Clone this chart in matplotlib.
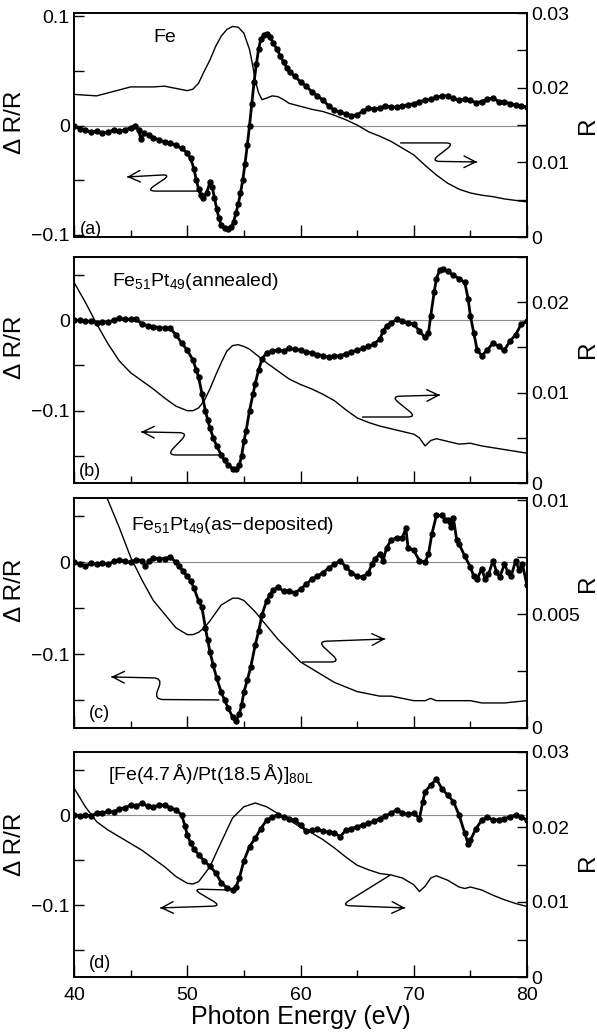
import matplotlib.pyplot as plt
import numpy as np
from matplotlib.path import Path
from matplotlib.patches import PathPatch
from matplotlib.ticker import MultipleLocator, FuncFormatter

plt.rcParams['font.family'] = ['Liberation Sans', 'DejaVu Sans']
plt.rcParams['mathtext.default'] = 'regular'

# === (a) Fe ===
a_dx = [40.0, 40.5, 41.0, 41.5, 42.0, 42.5, 43.0, 43.5, 44.0, 44.5, 45.0, 45.4, 45.7, 45.9, 46.2,
        46.6, 47.0, 47.5, 48.0, 48.5, 49.0, 49.5, 50.0, 50.3, 50.6, 50.8, 51.0, 51.2, 51.4, 51.7,
        52.0, 52.2, 52.4, 52.6, 52.8, 53.0, 53.3, 53.6, 53.9, 54.1, 54.3, 54.5, 54.7, 54.9, 55.1,
        55.3, 55.5, 55.7, 55.9, 56.1, 56.3, 56.5, 56.8, 57.0, 57.3, 57.6, 57.9, 58.2, 58.5, 58.8,
        59.1, 59.5, 60.0, 60.5, 61.0, 61.5, 62.0, 62.5, 63.0, 63.5, 64.0, 64.5, 65.0, 65.5, 66.0,
        66.5, 67.0, 67.5, 68.0, 68.5, 69.0, 69.5, 70.0, 70.5, 71.0, 71.5, 72.0, 72.5, 73.0, 73.5,
        74.0, 74.5, 75.0, 75.5, 76.0, 76.5, 77.0, 77.5, 78.0, 78.5, 79.0, 79.5, 80.0]
a_dy = [0.000, -0.003, -0.004, -0.006, -0.005, -0.007, -0.006, -0.004, -0.005, -0.004, -0.002,
        0.000, -0.004, -0.012, -0.007, -0.009, -0.011, -0.013, -0.015, -0.016, -0.018, -0.021,
        -0.025, -0.030, -0.040, -0.050, -0.058, -0.064, -0.066, -0.062, -0.052, -0.056, -0.066,
        -0.076, -0.085, -0.091, -0.094, -0.095, -0.093, -0.088, -0.080, -0.072, -0.062, -0.050,
        -0.035, -0.018, 0.000, 0.020, 0.040, 0.056, 0.070, 0.079, 0.083, 0.084, 0.081, 0.076,
        0.070, 0.064, 0.058, 0.053, 0.049, 0.045, 0.040, 0.036, 0.031, 0.027, 0.023, 0.018,
        0.014, 0.012, 0.011, 0.009, 0.010, 0.013, 0.016, 0.015, 0.016, 0.018, 0.017, 0.017,
        0.018, 0.019, 0.020, 0.022, 0.023, 0.024, 0.026, 0.027, 0.027, 0.025, 0.023, 0.024,
        0.023, 0.021, 0.022, 0.024, 0.025, 0.022, 0.022, 0.020, 0.019, 0.018, 0.017]
a_rx = [40, 41, 42, 43, 44, 45, 46, 47, 48, 49, 50, 50.5, 51, 51.5, 52, 52.5, 53, 53.5, 54,
        54.5, 55, 55.5, 55.8, 56, 56.3, 56.6, 57, 57.5, 58, 58.5, 59, 60, 61, 62, 63, 64, 65,
        66, 67, 68, 69, 70, 71, 72, 73, 74, 75, 76, 77, 78, 79, 80]
a_ry = [0.0191, 0.0190, 0.0189, 0.0193, 0.0197, 0.0201, 0.0201, 0.0201, 0.0202, 0.0199, 0.0196,
        0.0198, 0.0206, 0.0222, 0.0237, 0.0255, 0.0269, 0.0278, 0.0282, 0.0281, 0.0273, 0.0251,
        0.0228, 0.0210, 0.0193, 0.0184, 0.0186, 0.0189, 0.0188, 0.0184, 0.0179, 0.0175, 0.0171,
        0.0168, 0.0163, 0.0157, 0.0150, 0.0141, 0.0135, 0.0128, 0.0119, 0.0110, 0.0096, 0.0083,
        0.0072, 0.0064, 0.0059, 0.0056, 0.0054, 0.0051, 0.0049, 0.0047]

# === (b) Fe51Pt49 annealed ===
b_dx = [40.0, 40.5, 41.0, 41.5, 42.0, 42.5, 43.0, 43.5, 44.0, 44.5, 45.0, 45.5, 46.0, 46.5, 47.0,
        47.5, 48.0, 48.5, 49.0, 49.5, 50.0, 50.5, 50.8, 51.0, 51.3, 51.6, 51.8, 52.0, 52.3, 52.6,
        53.0, 53.3, 53.6, 54.0, 54.3, 54.6, 54.8, 55.0, 55.2, 55.5, 55.8, 56.0, 56.3, 56.6, 57.0,
        57.5, 58.0, 58.5, 59.0, 59.5, 60.0, 60.5, 61.0, 61.5, 62.0, 62.5, 63.0, 63.5, 64.0, 64.5,
        65.0, 65.5, 66.0, 66.5, 67.0, 67.3, 67.6, 68.0, 68.5, 69.0, 69.5, 70.0, 70.5, 71.0, 71.3,
        71.5, 71.8, 72.0, 72.3, 72.6, 73.0, 73.5, 74.0, 74.5, 74.8, 75.0, 75.3, 75.6, 76.0, 76.5,
        77.0, 77.5, 78.0, 78.5, 79.0, 79.5, 80.0]
b_dy = [0.000, 0.000, -0.001, -0.001, -0.003, -0.002, -0.002, 0.000, 0.002, 0.001, 0.001, 0.001,
        -0.004, -0.006, -0.007, -0.008, -0.009, -0.009, -0.016, -0.025, -0.033, -0.044, -0.055,
        -0.063, -0.081, -0.100, -0.110, -0.119, -0.130, -0.139, -0.149, -0.155, -0.160, -0.164,
        -0.165, -0.160, -0.150, -0.134, -0.122, -0.100, -0.082, -0.070, -0.055, -0.043, -0.036,
        -0.034, -0.033, -0.034, -0.031, -0.032, -0.033, -0.035, -0.036, -0.038, -0.039, -0.041,
        -0.040, -0.039, -0.037, -0.035, -0.033, -0.031, -0.029, -0.026, -0.021, -0.012, -0.006,
        -0.003, 0.001, -0.001, -0.003, -0.004, -0.012, -0.019, -0.014, 0.005, 0.031, 0.046,
        0.056, 0.057, 0.054, 0.050, 0.046, 0.042, 0.024, 0.005, -0.014, -0.033, -0.039, -0.033,
        -0.025, -0.029, -0.033, -0.023, -0.016, -0.004, -0.001]
b_rx = [40, 41, 42, 43, 44, 45, 46, 47, 48, 49, 50, 50.5, 51, 51.5, 52, 52.5, 53, 53.5, 54,
        54.5, 55, 55.5, 56, 57, 58, 59, 60, 61, 62, 63, 64, 65, 66, 67, 68, 69, 70, 70.5, 71,
        71.5, 72, 73, 74, 75, 76, 77, 78, 79, 80]
b_ry = [0.0222, 0.0200, 0.0176, 0.0154, 0.0135, 0.0122, 0.0113, 0.0104, 0.0094, 0.0085, 0.0080,
        0.0080, 0.0083, 0.0091, 0.0104, 0.0119, 0.0133, 0.0146, 0.0152, 0.0153, 0.0151, 0.0148,
        0.0143, 0.0133, 0.0124, 0.0115, 0.0109, 0.0104, 0.0098, 0.0091, 0.0081, 0.0072, 0.0067,
        0.0063, 0.0060, 0.0057, 0.0054, 0.0050, 0.0041, 0.0047, 0.0049, 0.0046, 0.0043, 0.0044,
        0.0041, 0.0039, 0.0037, 0.0035, 0.0033]

# === (c) Fe51Pt49 as-deposited ===
c_dx = [40.0, 40.5, 41.0, 41.5, 42.0, 42.5, 43.0, 43.5, 44.0, 44.5, 45.0, 45.5, 46.0, 46.3, 46.6,
        47.0, 47.5, 48.0, 48.5, 49.0, 49.3, 49.6, 50.0, 50.3, 50.6, 51.0, 51.3, 51.6, 51.8, 52.0,
        52.3, 52.6, 53.0, 53.3, 53.6, 54.0, 54.3, 54.6, 54.8, 55.0, 55.3, 55.6, 56.0, 56.3, 56.6,
        57.0, 57.3, 57.6, 58.0, 58.5, 59.0, 59.5, 60.0, 60.5, 61.0, 61.5, 62.0, 62.5, 63.0, 63.5,
        64.0, 64.5, 65.0, 65.5, 66.0, 66.3, 66.6, 67.0, 67.3, 67.6, 68.0, 68.5, 69.0, 69.3, 69.5,
        70.0, 70.5, 71.0, 71.3, 71.6, 72.0, 72.5, 72.8, 73.0, 73.3, 73.5, 73.8, 74.0, 74.5, 75.0,
        75.3, 75.6, 76.0, 76.3, 76.6, 77.0, 77.3, 77.6, 78.0, 78.3, 78.6, 79.0, 79.3, 79.6, 80.0]
c_dy = [0.000, -0.002, -0.004, -0.001, -0.002, -0.001, -0.002, 0.001, 0.003, 0.001, 0.000, 0.003,
        0.002, -0.004, 0.001, 0.005, 0.004, 0.004, 0.006, 0.000, -0.004, -0.009, -0.015, -0.020,
        -0.028, -0.042, -0.049, -0.071, -0.084, -0.097, -0.112, -0.126, -0.141, -0.150, -0.158,
        -0.168, -0.172, -0.165, -0.155, -0.141, -0.128, -0.114, -0.090, -0.075, -0.057, -0.042,
        -0.035, -0.030, -0.027, -0.031, -0.031, -0.033, -0.029, -0.024, -0.018, -0.015, -0.011,
        -0.006, -0.002, 0.002, -0.005, -0.011, -0.015, -0.016, -0.011, -0.002, 0.004, 0.009,
        0.002, 0.016, 0.024, 0.027, 0.027, 0.037, 0.016, 0.013, 0.002, 0.000, 0.009, 0.031,
        0.051, 0.051, 0.046, 0.046, 0.038, 0.048, 0.024, 0.020, 0.007, -0.005, -0.015, -0.018,
        -0.007, -0.018, -0.013, 0.002, -0.010, -0.016, -0.002, -0.010, -0.015, 0.002, -0.008,
        -0.002, -0.025]
c_rx = [40, 41, 42, 43, 44, 45, 46, 47, 48, 49, 50, 50.5, 51, 51.5, 52, 53, 54, 54.5, 55, 56,
        57, 58, 59, 60, 61, 62, 63, 64, 65, 66, 67, 68, 69, 70, 71, 71.5, 72, 73, 74, 75, 76,
        78, 80]
c_ry = [0.0133, 0.0121, 0.0111, 0.0100, 0.0088, 0.0075, 0.0065, 0.0056, 0.0050, 0.0044, 0.0041,
        0.0041, 0.0042, 0.0044, 0.0047, 0.0054, 0.0057, 0.0057, 0.0056, 0.0051, 0.0045, 0.0039,
        0.0034, 0.0029, 0.0026, 0.0023, 0.0020, 0.0018, 0.0016, 0.0015, 0.0014, 0.0014, 0.0013,
        0.0012, 0.0012, 0.0013, 0.0012, 0.0012, 0.0012, 0.0012, 0.0011, 0.0011, 0.0012]

# === (d) [Fe/Pt] multilayer ===
d_dx = [40.0, 40.5, 41.0, 41.5, 42.0, 42.5, 43.0, 43.5, 44.0, 44.5, 45.0, 45.5, 46.0, 46.5, 47.0,
        47.5, 48.0, 48.5, 49.0, 49.5, 49.8, 50.0, 50.3, 50.6, 51.0, 51.5, 52.0, 52.5, 53.0, 53.5,
        54.0, 54.3, 54.6, 55.0, 55.5, 56.0, 56.5, 57.0, 57.5, 58.0, 58.5, 59.0, 59.5, 60.0, 60.5,
        61.0, 61.5, 62.0, 62.5, 63.0, 63.5, 64.0, 64.5, 65.0, 65.5, 66.0, 66.5, 67.0, 67.5, 68.0,
        68.5, 69.0, 69.5, 70.0, 70.5, 70.8, 71.0, 71.5, 72.0, 72.5, 73.0, 73.5, 74.0, 74.5, 74.8,
        75.0, 75.5, 76.0, 76.5, 77.0, 77.5, 78.0, 78.5, 79.0, 79.5, 80.0]
d_dy = [0.000, -0.001, 0.000, -0.001, 0.002, 0.002, 0.004, 0.003, 0.007, 0.008, 0.011, 0.010,
        0.013, 0.010, 0.009, 0.011, 0.011, 0.008, 0.006, 0.000, -0.012, -0.022, -0.031, -0.038,
        -0.044, -0.051, -0.057, -0.064, -0.075, -0.081, -0.083, -0.080, -0.070, -0.051, -0.035,
        -0.026, -0.015, -0.006, -0.002, 0.000, -0.002, -0.004, -0.006, -0.011, -0.018, -0.017,
        -0.016, -0.018, -0.019, -0.020, -0.024, -0.017, -0.015, -0.013, -0.011, -0.009, -0.007,
        -0.004, -0.001, 0.002, 0.006, 0.002, 0.001, 0.002, -0.004, 0.015, 0.026, 0.033, 0.040,
        0.029, 0.022, 0.015, 0.000, -0.020, -0.032, -0.028, -0.015, -0.006, -0.002, -0.006,
        -0.005, -0.004, -0.002, 0.000, -0.002, -0.006]
d_rx = [40, 41, 42, 43, 44, 45, 46, 47, 48, 49, 50, 50.5, 51, 52, 53, 54, 55, 56, 57, 58, 59,
        60, 61, 62, 63, 64, 65, 66, 67, 68, 69, 70, 70.5, 71, 71.5, 72, 73, 74, 74.5, 75, 76,
        77, 78, 79, 80]
d_ry = [0.0252, 0.0227, 0.0207, 0.0196, 0.0187, 0.0178, 0.0169, 0.0158, 0.0147, 0.0134, 0.0125,
        0.0124, 0.0127, 0.0147, 0.0180, 0.0212, 0.0227, 0.0232, 0.0227, 0.0218, 0.0209, 0.0200,
        0.0192, 0.0183, 0.0172, 0.0160, 0.0149, 0.0143, 0.0138, 0.0136, 0.0132, 0.0123, 0.0114,
        0.0121, 0.0132, 0.0135, 0.0129, 0.0120, 0.0118, 0.0120, 0.0116, 0.0109, 0.0103, 0.0098,
        0.0094]

titles = ['Fe',
          r'Fe$_{51}$Pt$_{49}$(annealed)',
          r'Fe$_{51}$Pt$_{49}$(as$-$deposited)',
          r'[Fe(4.7$\,$Å)/Pt(18.5$\,$Å)]$_{80L}$']
tags = ['(a)', '(b)', '(c)', '(d)']

# panel boxes in pixels (top, bottom) of a 597x1034 figure
W, H = 597, 1034
X0, X1 = 74, 527
boxes = [(13, 237), (257, 483), (498, 728), (752, 977)]
left_lims = [(-0.102, 0.103), (-0.18, 0.07), (-0.18, 0.07), (-0.18, 0.07)]
right_lims = [(0, 0.03), (0, 0.025), (0, 0.0101), (0, 0.03)]
right_steps = [(0.005, 0.01), (0.005, 0.01), (0.0025, 0.005), (0.005, 0.01)]
title_pos = [(0.175, 0.89), (0.083, 0.89), (0.125, 0.88), (0.075, 0.90)]
tag_pos = [(0.013, 0.035), (0.010, 0.05), (0.033, 0.065), (0.033, 0.06)]
ylab_left = [0.51, 0.60, 0.60, 0.59]
ylab_right = [0.50, 0.59, 0.63, 0.51]

# squiggle arrows: start on curve -> corner -> corner -> tip (axes fraction)
arrows = [
    [[(0.278, 0.205), (0.160, 0.205), (0.214, 0.279), (0.117, 0.268)],
     [(0.720, 0.420), (0.840, 0.420), (0.788, 0.338), (0.890, 0.335)]],
    [[(0.322, 0.124), (0.205, 0.124), (0.252, 0.222), (0.148, 0.226)],
     [(0.636, 0.292), (0.756, 0.292), (0.700, 0.383), (0.808, 0.389)]],
    [[(0.321, 0.122), (0.177, 0.124), (0.195, 0.217), (0.082, 0.222)],
     [(0.503, 0.287), (0.587, 0.287), (0.538, 0.376), (0.687, 0.387)]],
    [[(0.338, 0.387), (0.262, 0.391), (0.325, 0.316), (0.190, 0.307)],
     [(0.698, 0.453), (0.590, 0.318), (0.731, 0.307)]],
]


def make_fmt(step):
    def f(v, pos):
        k = v / step
        if abs(k - round(k)) > 1e-6:
            return ''
        if abs(v) < 1e-12:
            return '0'
        return f'{v:g}'.replace('-', '\u2212')
    return FuncFormatter(f)


def squiggle(ax, pts, wpx, hpx, r=9.0):
    # rounded-corner polyline, computed in pixel space
    s = np.array([wpx, hpx])
    p = np.array(pts, float) * s
    verts = [p[0]]
    codes = [Path.MOVETO]
    for i in range(1, len(p) - 1):
        a, b, c = p[i - 1], p[i], p[i + 1]
        d1 = b - a
        d2 = c - b
        p1 = b - d1 * min(r / np.hypot(*d1), 0.5)
        p2 = b + d2 * min(r / np.hypot(*d2), 0.5)
        verts += [p1, b, p2]
        codes += [Path.LINETO, Path.CURVE3, Path.CURVE3]
    verts.append(p[-1])
    codes.append(Path.LINETO)
    verts = np.array(verts) / s
    ax.add_patch(PathPatch(Path(verts, codes), fill=False, lw=1.0, color='black',
                           transform=ax.transAxes))
    tip = p[-1]
    back = tip - (p[-1] - p[-2]) / np.hypot(*(p[-1] - p[-2])) * 6
    ax.annotate('', xy=tuple(tip / s), xytext=tuple(back / s), xycoords='axes fraction',
                arrowprops=dict(arrowstyle='->,head_length=0.6,head_width=0.3', lw=1.0,
                                color='black', mutation_scale=14, shrinkA=0, shrinkB=0))


fig = plt.figure(figsize=(W / 100, H / 100), dpi=100)

dots = [(a_dx, a_dy), (b_dx, b_dy), (c_dx, c_dy), (d_dx, d_dy)]
refl = [(a_rx, a_ry), (b_rx, b_ry), (c_rx, c_ry), (d_rx, d_ry)]

for i in range(4):
    top, bot = boxes[i]
    ax = fig.add_axes([X0 / W, 1 - bot / H, (X1 - X0) / W, (bot - top) / H])
    ax2 = ax.twinx()

    ax.axhline(0, color='0.55', lw=0.8, zorder=1)
    ax.plot(dots[i][0], dots[i][1], color='black', lw=2.0, marker='o', ms=3.6, zorder=3)
    ax2.plot(refl[i][0], refl[i][1], color='black', lw=1.0)

    ax.set_xlim(40, 80)
    ax.set_ylim(*left_lims[i])
    ax2.set_ylim(*right_lims[i])

    ax.xaxis.set_major_locator(MultipleLocator(10))
    ax.xaxis.set_minor_locator(MultipleLocator(5))
    ax.yaxis.set_major_locator(MultipleLocator(0.05))
    ax.yaxis.set_major_formatter(make_fmt(0.1))
    ax2.yaxis.set_major_locator(MultipleLocator(right_steps[i][0]))
    ax2.yaxis.set_major_formatter(make_fmt(right_steps[i][1]))

    ax.tick_params(axis='y', direction='in', length=7, width=1.0, labelsize=14, pad=3)
    ax2.tick_params(axis='y', direction='in', length=7, width=1.0, labelsize=14, pad=3)
    ax.tick_params(axis='x', which='major', direction='in', length=9, width=1.0,
                   labelsize=14, pad=7, top=False)
    ax.tick_params(axis='x', which='minor', direction='in', length=5, width=1.0, top=False)
    if i < 3:
        ax.tick_params(axis='x', labelbottom=False)
    else:
        ax.set_xlabel('Photon Energy (eV)', fontsize=18, labelpad=1)

    for sp in list(ax.spines.values()) + list(ax2.spines.values()):
        sp.set_linewidth(1.2)

    ax.set_ylabel('\u0394 R/R', fontsize=17.5)
    ax.yaxis.set_label_coords(-0.105, ylab_left[i])
    ax2.set_ylabel('R', fontsize=17.5)
    ax2.yaxis.set_label_coords(1.11, ylab_right[i])

    ax.text(*title_pos[i], titles[i], transform=ax.transAxes, fontsize=14, va='center')
    ax.text(*tag_pos[i], tags[i], transform=ax.transAxes, fontsize=13, va='center')

    for arr in arrows[i]:
        squiggle(ax2, arr, X1 - X0, bot - top)

fig.savefig('out.png', dpi=100)
